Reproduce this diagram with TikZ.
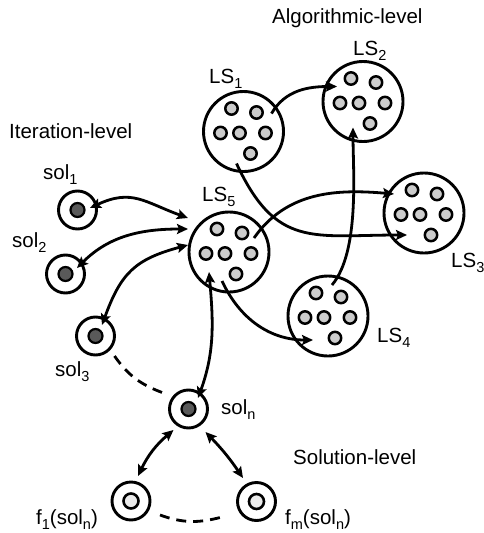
\documentclass[tikz,border=0pt]{standalone}
\usepackage{fontspec}
\setmainfont{Liberation Sans}
\usepackage{tikz}
\usetikzlibrary{shapes.geometric, arrows.meta}
\newcommand{\lowsub}[1]{\raisebox{-5pt}{\fontsize{14.5}{16}\selectfont #1}}
\tikzstyle{lsset} = [circle, minimum size=80pt, inner sep=0pt, draw=black, line width=2.9pt, path picture={\foreach \dx/\dy in {-12/23, 13/19, -23/-1.5, -4/-1.5, 22/-1.5, 7/-22} \draw[line width=2.5pt, fill=gray!40] ([shift={(\dx pt,\dy pt)}]path picture bounding box.center) circle (6.2pt);}]
\tikzstyle{solnode} = [circle, minimum size=38pt, inner sep=0pt, draw=black, line width=2.9pt, path picture={\draw[line width=2.2pt, fill=black!65] (path picture bounding box.center) circle (7pt);}]
\tikzstyle{fitnode} = [circle, minimum size=38pt, inner sep=0pt, draw=black, line width=2.9pt, path picture={\draw[line width=2.6pt, fill=black!8] (path picture bounding box.center) circle (7.5pt);}]
\tikzstyle{lbl} = [anchor=base west, inner sep=0pt, font=\fontsize{20.5}{24}\selectfont]
\tikzstyle{arrow} = [line width=2.8pt, -{Stealth[length=11pt,width=10pt,inset=2pt]}]
\tikzstyle{dblarrow} = [line width=2.8pt, {Stealth[length=11pt,width=10pt,inset=2pt]}-{Stealth[length=11pt,width=10pt,inset=2pt]}]
\tikzstyle{link} = [line width=2.8pt, dash pattern=on 10pt off 7pt]

\begin{document}
\begin{tikzpicture}[x=1pt,y=1pt]
        \useasboundingbox (0,0) rectangle (484,-533);
        \node (alglbl) [lbl] at (272,-23) {Algorithmic-level};
        \node (iterlbl) [lbl] at (9,-138) {Iteration-level};
        \node (sollbl) [lbl] at (293,-464) {Solution-level};

        \node (ls1) [lsset] at (243.5,-131.5) {};
        \node (ls2) [lsset] at (363,-101.5) {};
        \node (ls3) [lsset] at (424,-213) {};
        \node (ls4) [lsset] at (328,-316) {};
        \node (ls5) [lsset] at (229,-252) {};
        \node (sol1) [solnode] at (77.5,-210) {};
        \node (sol2) [solnode] at (65.5,-274) {};
        \node (sol3) [solnode] at (95.5,-336) {};
        \node (soln) [solnode] at (188.5,-409) {};
        \node (f1) [fitnode] at (131,-501) {};
        \node (fm) [fitnode] at (256.5,-501.5) {};

        \node (ls1lbl) [lbl] at (209,-83) {LS\lowsub{1}};
        \node (ls2lbl) [lbl] at (353,-55) {LS\lowsub{2}};
        \node (ls3lbl) [lbl] at (451,-267) {LS\lowsub{3}};
        \node (ls4lbl) [lbl] at (377,-342) {LS\lowsub{4}};
        \node (ls5lbl) [lbl] at (202,-201) {LS\lowsub{5}};
        \node (sol1lbl) [lbl] at (43,-179) {sol\lowsub{1}};
        \node (sol2lbl) [lbl] at (12,-247) {sol\lowsub{2}};
        \node (sol3lbl) [lbl] at (55,-376) {sol\lowsub{3}};
        \node (solnlbl) [lbl] at (221,-414) {sol\lowsub{n}};
        \node (f1lbl) [lbl] at (36,-524) {f\lowsub{1}(sol\lowsub{n})};
        \node (fmlbl) [lbl] at (285,-524) {f\lowsub{m}(sol\lowsub{n})};

        \draw [arrow] ([shift={(28,18)}]ls1.center) to[out=60,in=180] ([shift={(-26,15)}]ls2.center);
        \draw [arrow] ([shift={(-7,-32)}]ls1.center) to[out=-65,in=180,looseness=1.3] ([shift={(-17,-22)}]ls3.center);
        \draw [arrow] ([shift={(25,14)}]ls5.center) to[out=55,in=175] ([shift={(-30,19)}]ls3.center);
        \draw [arrow] ([shift={(4,31)}]ls4.center) to[out=50,in=-90,looseness=0.7] ([shift={(-10,-26)}]ls2.center);
        \draw [arrow] ([shift={(-7,-29)}]ls5.center) to[out=-65,in=180] ([shift={(-15,-24)}]ls4.center);
        \draw [dblarrow] ([shift={(12.5,2)}]sol1.center) to[out=25,in=160,looseness=1.2] ([shift={(-41,34)}]ls5.center);
        \draw [dblarrow] ([shift={(11.5,6)}]sol2.center) to[out=45,in=180] ([shift={(-41,23)}]ls5.center);
        \draw [dblarrow] ([shift={(6.5,11)}]sol3.center) to[out=70,in=195,looseness=1.2] ([shift={(-41,7)}]ls5.center);
        \draw [dblarrow] ([shift={(9.5,11)}]soln.center) to[out=70,in=-85] ([shift={(-20,-20)}]ls5.center);
        \draw [dblarrow] ([shift={(-15,-21)}]soln.center) to[bend right=12] ([shift={(7,25)}]f1.center);
        \draw [dblarrow] ([shift={(17,-23)}]soln.center) to[bend left=5] ([shift={(-13.5,23.5)}]fm.center);
        \draw [link] ([shift={(19,-20)}]sol3.center) to[out=-55,in=160] ([shift={(-25,16)}]soln.center);
        \draw [link] ([shift={(29,-14)}]f1.center) to[out=-20,in=-165] ([shift={(-34.5,-15.5)}]fm.center);
\end{tikzpicture}
\end{document}
